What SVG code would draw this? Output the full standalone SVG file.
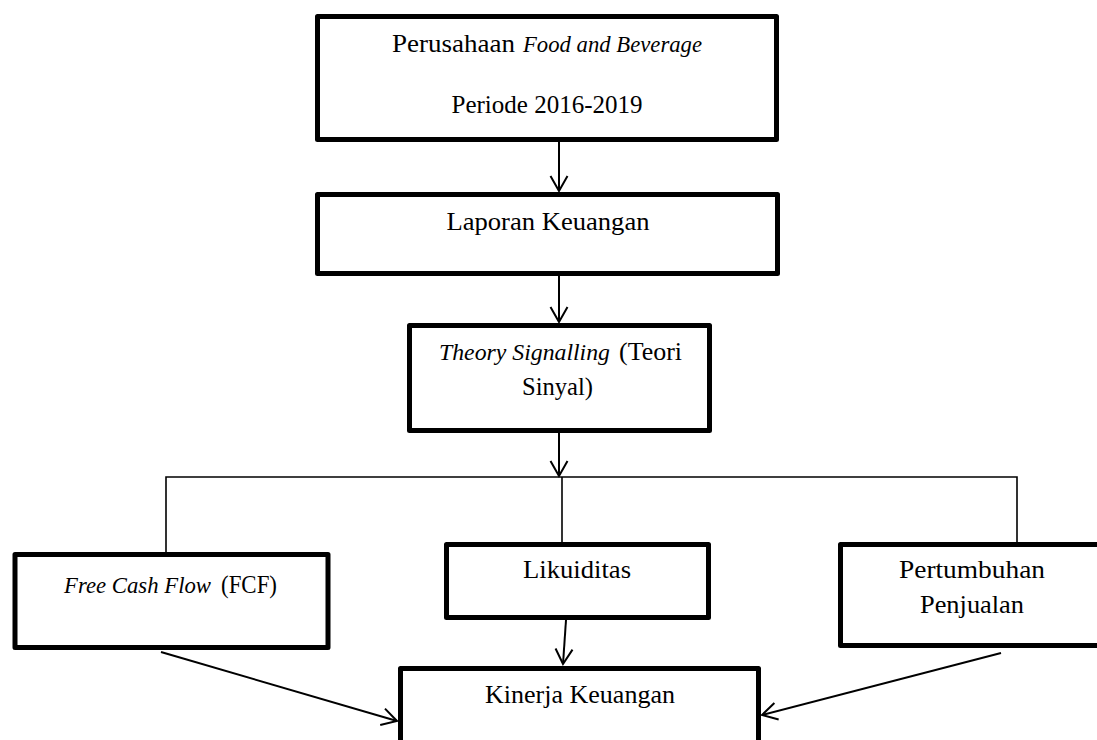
<svg xmlns="http://www.w3.org/2000/svg" width="1097" height="740" viewBox="0 0 1097 740">
  <defs>
    <marker id="arr" markerUnits="userSpaceOnUse" markerWidth="20" markerHeight="20" viewBox="-16 -10 18 20" refX="0" refY="0" orient="auto">
      <path d="M-15,-8.5 L0,0 L-15,8.5" fill="none" stroke="#000" stroke-width="2"/>
    </marker>
  </defs>
  <style>
    .box { fill: #fff; stroke: #000; stroke-width: 5; stroke-linejoin: round; }
    .t { font-family: "Liberation Serif", "Times New Roman", serif; font-size: 26px; fill: #000; text-anchor: middle; }
    .s { text-anchor: start; }
    .i { font-style: italic; font-size: 24px; }
    .c { fill: none; stroke: #000; stroke-width: 2; }
    .b { fill: none; stroke: #000; stroke-width: 1.6; }
  </style>
  <rect width="1097" height="740" fill="#fff"/>

  <g id="connectors">
    <line class="c" x1="559" y1="142" x2="559" y2="191" marker-end="url(#arr)"/>
    <line class="c" x1="559" y1="276" x2="559" y2="322" marker-end="url(#arr)"/>
    <line class="c" x1="559" y1="433" x2="559" y2="476" marker-end="url(#arr)"/>
    <polyline class="b" points="166,552 166,477 1017,477 1017,542"/>
    <line class="b" x1="562" y1="477" x2="562" y2="542"/>
    <line class="c" x1="566" y1="620" x2="563" y2="664" marker-end="url(#arr)"/>
    <line class="c" x1="161" y1="652" x2="397" y2="721" marker-end="url(#arr)"/>
    <line class="c" x1="1001" y1="653" x2="762" y2="715" marker-end="url(#arr)"/>
  </g>

  <g id="node-perusahaan">
    <rect class="box" x="317.5" y="16.5" width="459" height="123"/>
    <text class="t s" x="392" y="52" textLength="123" lengthAdjust="spacingAndGlyphs">Perusahaan</text>
    <text class="t s i" x="523" y="52" textLength="179" lengthAdjust="spacingAndGlyphs">Food and Beverage</text>
    <text class="t" x="547" y="113" textLength="191" lengthAdjust="spacingAndGlyphs">Periode 2016-2019</text>
  </g>

  <g id="node-laporan">
    <rect class="box" x="317.5" y="194.5" width="460" height="79"/>
    <text class="t" x="548" y="230" textLength="203" lengthAdjust="spacingAndGlyphs">Laporan Keuangan</text>
  </g>

  <g id="node-theory">
    <rect class="box" x="409.5" y="325.5" width="300" height="105"/>
    <text class="t s i" x="439" y="360" textLength="171" lengthAdjust="spacingAndGlyphs">Theory Signalling</text>
    <text class="t s" x="619" y="360" textLength="63" lengthAdjust="spacingAndGlyphs">(Teori</text>
    <text class="t" x="557.5" y="395" textLength="71" lengthAdjust="spacingAndGlyphs">Sinyal)</text>
  </g>

  <g id="node-fcf">
    <rect class="box" x="15" y="554.5" width="313" height="93"/>
    <text class="t s i" x="64" y="593" textLength="147" lengthAdjust="spacingAndGlyphs">Free Cash Flow</text>
    <text class="t s" x="221" y="593" textLength="56" lengthAdjust="spacingAndGlyphs">(FCF)</text>
  </g>

  <g id="node-likuiditas">
    <rect class="box" x="446.5" y="544.5" width="262" height="73"/>
    <text class="t" x="577" y="578" textLength="108" lengthAdjust="spacingAndGlyphs">Likuiditas</text>
  </g>

  <g id="node-pertumbuhan">
    <rect class="box" x="840.5" y="544.5" width="263" height="101"/>
    <text class="t" x="972" y="578" textLength="146" lengthAdjust="spacingAndGlyphs">Pertumbuhan</text>
    <text class="t" x="972" y="613" textLength="104" lengthAdjust="spacingAndGlyphs">Penjualan</text>
  </g>

  <g id="node-kinerja">
    <rect class="box" x="400.5" y="668.5" width="358" height="80"/>
    <text class="t" x="580" y="703" textLength="190" lengthAdjust="spacingAndGlyphs">Kinerja Keuangan</text>
  </g>
</svg>
